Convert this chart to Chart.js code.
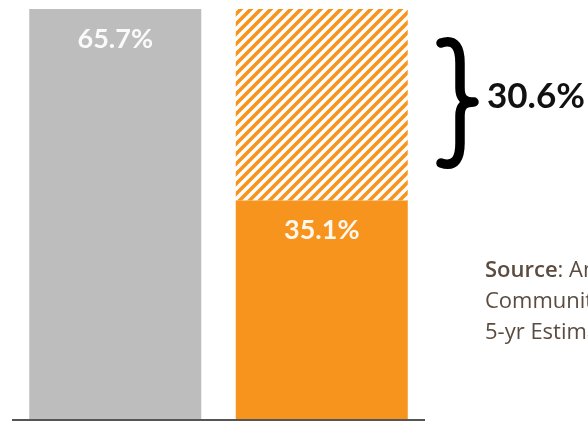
<!DOCTYPE html>
<html>
<head>
<meta charset="utf-8">
<script src="https://cdn.jsdelivr.net/npm/chart.js@4.4.1/dist/chart.umd.min.js"></script>
<style>
  html, body { margin: 0; padding: 0; background: #ffffff; }
  #wrap { width: 588px; height: 421px; position: relative; }
</style>
</head>
<body>
<div id="wrap"><canvas id="c" width="588" height="421"></canvas></div>
<script>
// ---- data ----
const categories = ["Bar 1", "Bar 2"];
const baseValues = [65.7, 35.1];
const gapValues = [0, 30.6];
const barLabels = ["65.7%", "35.1%"];
const gapLabel = "30.6%";
const sourceLines = [
  { bold: "Source", rest: ": American" },
  { bold: "", rest: "Community Survey" },
  { bold: "", rest: "5-yr Estimates" }
];

// ---- styles ----
const GRAY = "#bdbdbd";
const ORANGE = "#f7941d";

function makeHatch() {
  const s = 10;
  const p = document.createElement("canvas");
  p.width = s; p.height = s;
  const g = p.getContext("2d");
  g.fillStyle = "#ffffff";
  g.fillRect(0, 0, s, s);
  g.strokeStyle = ORANGE;
  g.lineWidth = 3.6;
  g.lineCap = "square";
  g.beginPath();
  g.moveTo(-s, s * 2); g.lineTo(s * 2, -s);
  g.moveTo(-s, s); g.lineTo(s, -s);
  g.moveTo(0, s * 2); g.lineTo(s * 2, 0);
  g.stroke();
  return p;
}
const ctx0 = document.getElementById("c").getContext("2d");
const hatch = ctx0.createPattern(makeHatch(), "repeat");

const overlay = {
  id: "overlay",
  afterDatasetsDraw(chart) {
    const ctx = chart.ctx;
    const area = chart.chartArea;
    // baseline
    ctx.save();
    ctx.strokeStyle = "#555555";
    ctx.lineWidth = 2;
    ctx.beginPath();
    ctx.moveTo(area.left, area.bottom);
    ctx.lineTo(area.right, area.bottom);
    ctx.stroke();

    // bar labels
    const meta = chart.getDatasetMeta(0);
    ctx.fillStyle = "rgba(255,255,255,0.92)";
    ctx.font = "bold 27px Lato";
    ctx.textAlign = "center";
    ctx.textBaseline = "middle";
    meta.data.forEach((bar, i) => {
      ctx.fillText(barLabels[i], bar.x, bar.y + 30);
    });

    // brace spanning the gap on the second bar
    const ys = chart.scales.y;
    const yTop = ys.getPixelForValue(baseValues[1] + gapValues[1]);
    const b0 = yTop + 32, b1 = yTop + 156;
    const mid = yTop + 93;
    ctx.strokeStyle = "#000000";
    ctx.lineWidth = 9.5;
    ctx.lineCap = "round";
    ctx.lineJoin = "round";
    const xe = 441, xs = 460, xp = 474;
    ctx.beginPath();
    ctx.moveTo(xe, b0 + 2);
    ctx.bezierCurveTo(xs - 4, b0 - 3, xs, b0 + 8, xs, b0 + 22);
    ctx.lineTo(xs, mid - 14);
    ctx.bezierCurveTo(xs, mid - 4, xs + 4, mid, xp, mid);
    ctx.bezierCurveTo(xs + 4, mid, xs, mid + 4, xs, mid + 14);
    ctx.lineTo(xs, b1 - 22);
    ctx.bezierCurveTo(xs, b1 - 8, xs - 4, b1 + 3, xe, b1 - 2);
    ctx.stroke();

    // gap label
    ctx.fillStyle = "#111111";
    ctx.font = "bold 35px Lato";
    ctx.textAlign = "left";
    ctx.textBaseline = "middle";
    ctx.fillText(gapLabel, 487, yTop + 88);

    // source
    ctx.fillStyle = "#5b4c40";
    ctx.textBaseline = "middle";
    let y = 271;
    sourceLines.forEach(l => {
      let x = 485;
      if (l.bold) {
        ctx.font = "600 22px 'Open Sans'";
        ctx.fillText(l.bold, x, y);
        x += ctx.measureText(l.bold).width;
      }
      ctx.font = "22px 'Open Sans'";
      ctx.fillText(l.rest, x, y);
      y += 31;
    });
    ctx.restore();
  }
};

new Chart(document.getElementById("c"), {
  type: "bar",
  data: {
    labels: categories,
    datasets: [
      {
        data: baseValues,
        backgroundColor: [GRAY, ORANGE],
        borderWidth: 0,
        barPercentage: 0.833,
        categoryPercentage: 1.0
      },
      {
        data: gapValues,
        backgroundColor: hatch,
        borderWidth: 0,
        barPercentage: 0.833,
        categoryPercentage: 1.0
      }
    ]
  },
  options: {
    responsive: false,
    animation: false,
    layout: { padding: { left: 12, right: 163, top: 0, bottom: 1 } },
    plugins: { legend: { display: false }, tooltip: { enabled: false } },
    scales: {
      x: { stacked: true, display: false },
      y: { stacked: true, display: false, min: 0, max: 67.14 }
    }
  },
  plugins: [overlay]
});
</script>
</body>
</html>
